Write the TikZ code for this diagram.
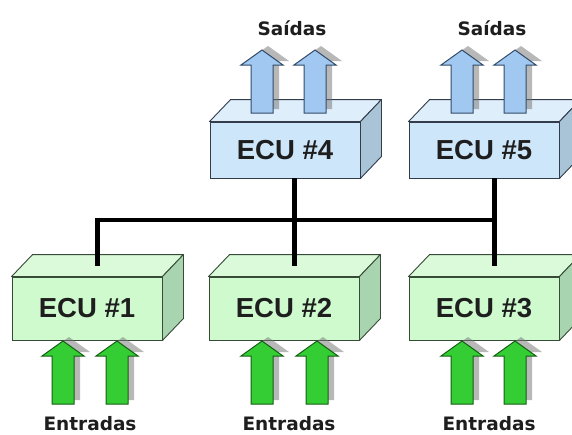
\documentclass[tikz,border=0pt]{standalone}
\usepackage{fontspec}
\setmainfont{Liberation Sans}
\newfontfamily\labfont{DejaVu Sans}
\definecolor{gF}{RGB}{206,250,206}
\definecolor{gT}{RGB}{218,250,218}
\definecolor{gS}{RGB}{168,212,176}
\definecolor{gE}{RGB}{55,75,55}
\definecolor{bF}{RGB}{206,230,250}
\definecolor{bT}{RGB}{222,238,250}
\definecolor{bS}{RGB}{168,196,214}
\definecolor{bE}{RGB}{50,60,75}
\definecolor{gArrF}{RGB}{52,205,52}
\definecolor{gArrD}{RGB}{20,95,20}
\definecolor{bArrF}{RGB}{160,200,240}
\definecolor{bArrD}{RGB}{50,75,105}
\definecolor{txt}{RGB}{30,30,30}
\newcommand\ecubox[5]{%
  \node[ecufront, minimum height=#3, fill=#4F, draw=#4E] (#1) at (#2) {#5};
  \draw[#4E, fill=#4T, line width=0.9pt, line join=round] (#1.north west) -- ([shift={(21,-22)}]#1.north west) -- ([shift={(21,-22)}]#1.north east) -- (#1.north east) -- cycle;
  \draw[#4E, fill=#4S, line width=0.9pt, line join=round] (#1.north east) -- ([shift={(21,-22)}]#1.north east) -- ([shift={(21,-22)}]#1.south east) -- (#1.south east) -- cycle;
}
\newcommand\arrpath[3]{(#1,#2) -- (#1+21,#2+15) -- (#1+11,#2+15) -- (#1+11,#3) -- (#1-11,#3) -- (#1-11,#2+15) -- (#1-21,#2+15) -- cycle}
\newcommand\bigarrow[5]{%
  \fill[black!55, opacity=0.5, shift={(6,-4)}] \arrpath{#1}{#2}{#3};
  \draw[fill=#4, draw=#5, line width=1pt, line join=miter] \arrpath{#1}{#2}{#3};
}
\begin{document}
\begin{tikzpicture}[x=1pt,y=-1pt,
  ecufront/.style={rectangle, line width=0.9pt, minimum width=150pt, inner sep=0pt,
    font=\fontsize{27.5}{27.5}\selectfont\bfseries, text=txt},
  iolabel/.style={font=\labfont\fontsize{18.5}{18.5}\selectfont\bfseries, text=txt, inner sep=0pt},
  bus/.style={line width=4.5pt, black, line join=miter}]
\clip (0,0) rectangle (572,434);
\fill[white] (0,0) rectangle (572,434);

% lower ECUs
\ecubox{ecu1}{87,308.5}{63pt}{g}{ECU \#1}
\ecubox{ecu2}{284,308.5}{63pt}{g}{ECU \#2}
\ecubox{ecu3}{484,308.5}{63pt}{g}{ECU \#3}
% upper ECUs
\ecubox{ecu4}{285,150}{56pt}{b}{ECU \#4}
\ecubox{ecu5}{484,150}{56pt}{b}{ECU \#5}

% bus
\coordinate (t1) at ([shift={(10.5,-11)}]ecu1.north);
\coordinate (t2) at ([shift={(10.5,-11)}]ecu2.north);
\coordinate (t3) at ([shift={(10.5,-11)}]ecu3.north);
\coordinate (busy) at (0,220);
\draw[bus] (t1) |- (t3 |- busy);
\draw[bus] (ecu4.south -| t2) -- (t2);
\draw[bus] (ecu5.south -| t3) -- (t3);

% output arrows
\bigarrow{262}{50}{113}{bArrF}{bArrD}
\bigarrow{315}{50}{113}{bArrF}{bArrD}
\bigarrow{462}{50}{113}{bArrF}{bArrD}
\bigarrow{515}{50}{113}{bArrF}{bArrD}
% input arrows
\bigarrow{63}{341}{404}{gArrF}{gArrD}
\bigarrow{117}{341}{404}{gArrF}{gArrD}
\bigarrow{262}{341}{404}{gArrF}{gArrD}
\bigarrow{317}{341}{404}{gArrF}{gArrD}
\bigarrow{462}{341}{404}{gArrF}{gArrD}
\bigarrow{515}{341}{404}{gArrF}{gArrD}

% labels
\node[iolabel] (out4) at (292,28) {Saídas};
\node[iolabel] (out5) at (492,28) {Saídas};
\node[iolabel] (in1) at (90,424) {Entradas};
\node[iolabel] (in2) at (289,424) {Entradas};
\node[iolabel] (in3) at (489,424) {Entradas};
\end{tikzpicture}
\end{document}
